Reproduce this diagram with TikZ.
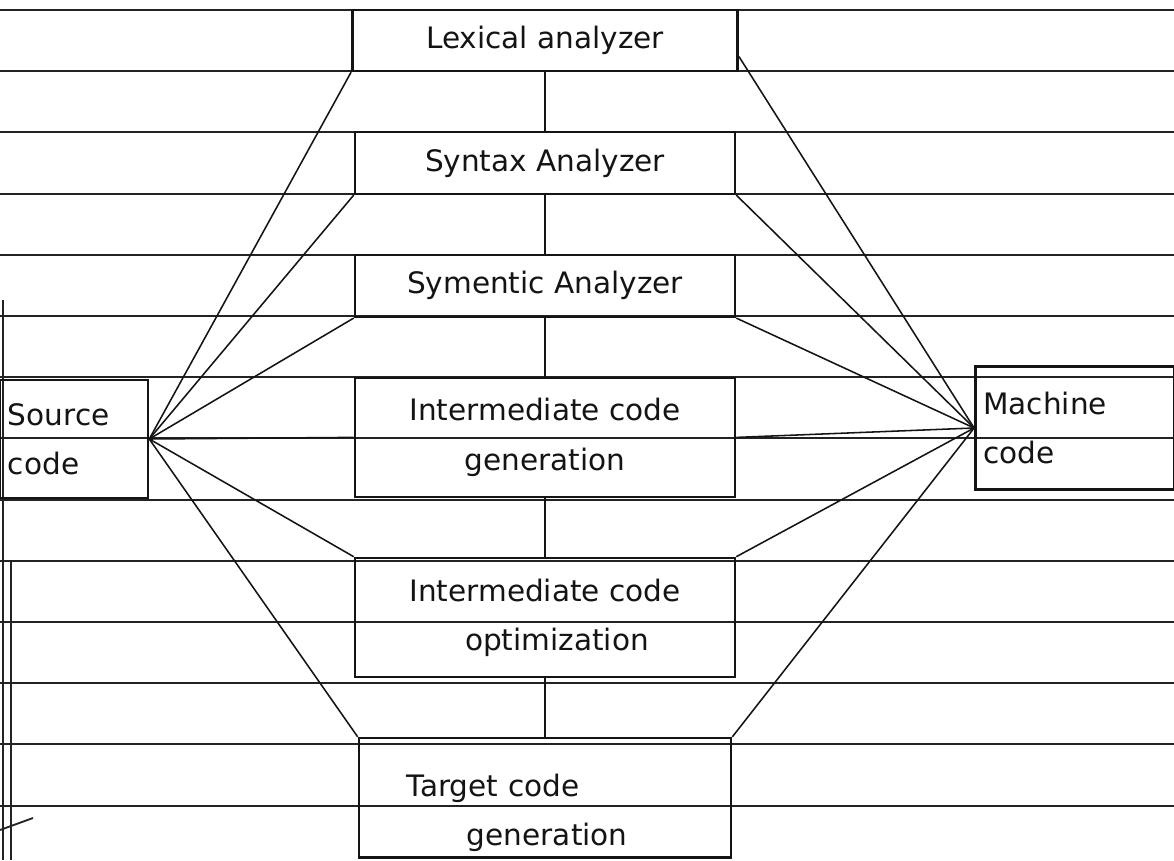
\documentclass[tikz,border=0pt]{standalone}
\usepackage{fontspec}
\setmainfont{DejaVu Sans}
\usetikzlibrary{
  positioning,
  calc
}
\definecolor{inkblack}{RGB}{20,20,20}
\definecolor{rulegray}{RGB}{35,35,35}
\tikzset{
  stagebox/.style={
    draw=inkblack, line width=1.8pt,
    minimum width=9.5cm, minimum height=1.55cm,
    inner sep=0pt, align=center,
    font=\fontsize{21}{35}\selectfont\color{inkblack}
  },
  tallbox/.style={
    stagebox, minimum height=2.98cm
  },
  endbox/.style={
    draw=inkblack, line width=1.8pt,
    minimum height=2.95cm, inner xsep=0.2cm, align=left,
    font=\fontsize{21}{35}\selectfont\color{inkblack}
  },
  pipeline/.style={
    draw=inkblack, line width=1.3pt
  },
  fanline/.style={
    draw=inkblack, line width=1.1pt
  },
  ruleline/.style={
    draw=rulegray, line width=1.3pt
  },
}

\begin{document}
\begin{tikzpicture}[x=0.025cm, y=-0.025cm, node distance=1.46cm]

  \useasboundingbox (0,0) rectangle (1174,860);

  %% ruled paper
  \foreach \i in {0,...,14}
    \draw[ruleline] (0,10+61.2*\i) -- (1174,10+61.2*\i);
  \draw[ruleline] (3,300) -- (3,860);
  \draw[ruleline] (11,560) -- (11,860);
  \draw[ruleline] (0,830) -- (33,818);

  %% compiler phases
  \node[stagebox, minimum width=9.63cm, minimum height=1.52cm] (lex) at (545,40.5) {Lexical analyzer};
  \node[stagebox, below=of lex] (syn) {Syntax Analyzer};
  \node[stagebox, below=of syn] (sem) {Symentic Analyzer};
  \node[tallbox, below=of sem] (icg) {Intermediate code\\generation};
  \node[tallbox, below=of icg] (ico) {Intermediate code\\\hspace*{0.6cm}optimization};
  \node[tallbox, below=of ico, minimum width=9.3cm, text width=6.9cm, align=left] (tcg)
    {\rule{0pt}{1.3cm}Target code\\\hspace*{1.5cm}generation};

  \draw[pipeline] (lex.south) -- (syn.north);
  \draw[pipeline] (syn.south) -- (sem.north);
  \draw[pipeline] (sem.south) -- (icg.north);
  \draw[pipeline] (icg.south) -- (ico.north);
  \draw[pipeline] (ico.south) -- (tcg.north);

  %% input and output
  \node[endbox, text width=3.3cm] (src) at (74,439) {Source\\code};
  \node[endbox, text width=4.58cm, minimum height=3.08cm] (mac) at (1075,428)
    {Machine\\code};

  %% fan from source code
  \draw[fanline] (src.east) -- (lex.south west);
  \draw[fanline] (src.east) -- (syn.south west);
  \draw[fanline] (src.east) -- (sem.south west);
  \draw[fanline] (src.east) -- (icg.west);
  \draw[fanline] (src.east) -- (ico.north west);
  \draw[fanline] (src.east) -- (tcg.north west);

  %% fan into machine code
  \draw[fanline] ([yshift=-0.4cm]lex.east) -- (mac.west);
  \draw[fanline] (syn.south east) -- (mac.west);
  \draw[fanline] (sem.south east) -- (mac.west);
  \draw[fanline] (icg.east) -- (mac.west);
  \draw[fanline] (ico.north east) -- (mac.west);
  \draw[fanline] (tcg.north east) -- (mac.west);

\end{tikzpicture}
\end{document}
